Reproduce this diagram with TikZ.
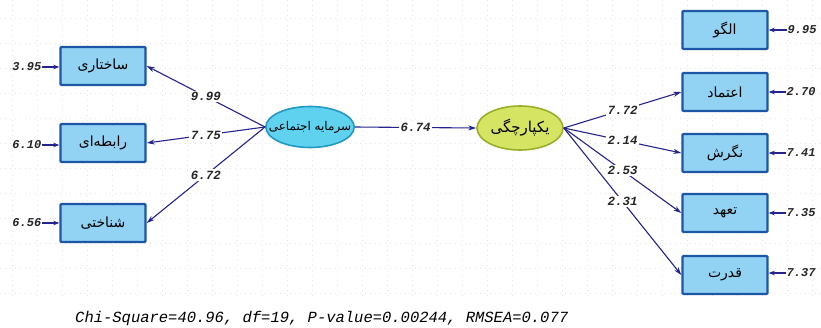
\documentclass[tikz,border=0pt]{standalone}
\usepackage{fontspec}
\usetikzlibrary{arrows.meta,shapes.geometric}
\TeXXeTstate=1
\newfontfamily\fa[Script=Arabic]{DejaVu Sans}
\newfontfamily\mono{Liberation Mono}
\definecolor{boxfill}{HTML}{92D3F4}
\definecolor{boxdraw}{HTML}{1C56A4}
\definecolor{ellcyan}{HTML}{5FD2EF}
\definecolor{ellcyanb}{HTML}{2398C2}
\definecolor{ellgreen}{HTML}{D5E463}
\definecolor{ellgreenb}{HTML}{9AAE2A}
\definecolor{arr}{HTML}{24248C}
\tikzset{
 obs/.style={draw=boxdraw, fill=boxfill, line width=2.4pt, minimum width=85pt, minimum height=38pt, inner sep=0pt, rounded corners=1pt, font=\fa\fontsize{14}{16}\selectfont},
 latc/.style={ellipse, draw=ellcyanb, fill=ellcyan, line width=1.6pt, inner xsep=-10pt, inner ysep=8pt, minimum width=85pt, minimum height=41pt, font=\fa\fontsize{12}{14}\selectfont},
 latg/.style={ellipse, draw=ellgreenb, fill=ellgreen, line width=1.6pt, inner sep=0pt, minimum width=86pt, minimum height=44pt, font=\fa\fontsize{15}{17}\selectfont},
 conn/.style={draw=arr, line width=1.1pt, -{Stealth[length=8pt,width=5pt]}},
 lbl/.style={font=\mono\bfseries\itshape\fontsize{12.5}{13}\selectfont, fill=white, inner sep=1.5pt, text=black!85},
 errl/.style={font=\mono\bfseries\itshape\fontsize{12}{13}\selectfont, inner sep=0.5pt, text=black!85},
 errarr/.style={draw=arr, line width=1.1pt, -{Stealth[length=6pt,width=4.5pt]}},
 gridln/.style={draw=gray!22, line width=0.6pt, dash pattern=on 1pt off 4pt}
}
\begin{document}
\begin{tikzpicture}[x=1pt,y=-1pt]
\fill[white] (0,0) rectangle (821,327);
\useasboundingbox (0,0) rectangle (821,327);
\foreach \gx in {12,37,...,812} {\draw[gridln] (\gx,0) -- (\gx,300);}
\foreach \gy in {18,43,...,300} {\draw[gridln] (0,\gy) -- (821,\gy);}

% left indicators
\node[obs] (s1) at (103,66) {\beginR ساختاری\endR};
\node[obs] (s2) at (103,143) {\beginR رابطه‌ای\endR};
\node[obs] (s3) at (103,223) {\beginR شناختی\endR};
% latent variables
\node[latc] (l1) at (310,127) {\beginR سرمایه اجتماعی\endR};
\node[latg] (l2) at (520,128) {\beginR یکپارچگی\endR};
% right indicators
\node[obs] (r1) at (725,30) {\beginR الگو\endR};
\node[obs] (r2) at (725,92) {\beginR اعتماد\endR};
\node[obs] (r3) at (725,153) {\beginR نگرش\endR};
\node[obs] (r4) at (725,213) {\beginR تعهد\endR};
\node[obs] (r5) at (725,275) {\beginR قدرت\endR};

% error terms left
\node[errl, anchor=east] (e1) at (42,67) {3.95};
\node[errl, anchor=east] (e2) at (42,145) {6.10};
\node[errl, anchor=east] (e3) at (42,223) {6.56};
\draw[errarr] (e1.east) -- (s1.west |- e1.east);
\draw[errarr] (e2.east) -- (s2.west |- e2.east);
\draw[errarr] (e3.east) -- (s3.west |- e3.east);
% error terms right
\node[errl, anchor=west] (f1) at (787,30) {9.95};
\node[errl, anchor=west] (f2) at (786,92) {2.70};
\node[errl, anchor=west] (f3) at (786,153) {7.41};
\node[errl, anchor=west] (f4) at (786,213) {7.35};
\node[errl, anchor=west] (f5) at (786,273) {7.37};
\draw[errarr] (f1.west) -- (r1.east |- f1.west);
\draw[errarr] (f2.west) -- (r2.east |- f2.west);
\draw[errarr] (f3.west) -- (r3.east |- f3.west);
\draw[errarr] (f4.west) -- (r4.east |- f4.west);
\draw[errarr] (f5.west) -- (r5.east |- f5.west);

% loadings left
\draw[conn] (l1.west) -- node[lbl] {9.99} (s1.east);
\draw[conn] (l1.west) -- node[lbl] {7.75} (s2.east);
\draw[conn] (l1.west) -- node[lbl] {6.72} (s3.east);
% structural path
\draw[conn] (l1.east) -- node[lbl] {6.74} (l2.west);
% loadings right
\draw[conn] (l2.east) -- node[lbl] {7.72} (r2.west);
\draw[conn] (l2.east) -- node[lbl] {2.14} (r3.west);
\draw[conn] (l2.east) -- node[lbl] {2.53} (r4.west);
\draw[conn] (l2.east) -- node[lbl] {2.31} (r5.west);

\node[anchor=west, font=\mono\itshape\fontsize{15.5}{17}\selectfont, inner sep=0pt] (fit) at (75,318) {Chi-Square=40.96, df=19, P-value=0.00244, RMSEA=0.077};
\end{tikzpicture}
\end{document}
